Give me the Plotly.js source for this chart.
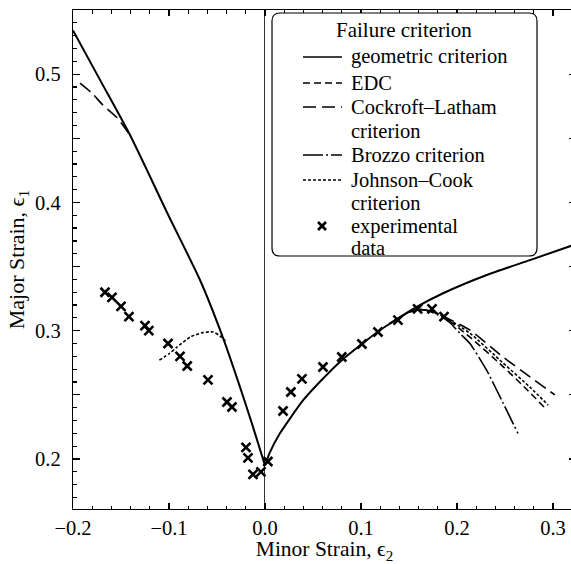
<!DOCTYPE html>
<html>
<head>
<meta charset="utf-8">
<script src="https://cdn.plot.ly/plotly-3.0.1.min.js"></script>
<style>
html,body{margin:0;padding:0;overflow:hidden;background:#fff;}
#chart{width:590px;height:564px;}
</style>
</head>
<body>
<div id="chart"></div>
<script>
// ---- data ----
const geoLeftX = [-0.2, -0.17, -0.1406, -0.1, -0.0677, -0.044, -0.026, -0.0125, 0.0];
const geoLeftY = [0.534, 0.493, 0.4525, 0.389, 0.3395, 0.295, 0.256, 0.225, 0.195];
const geoRightX = [0.0, 0.005, 0.0156, 0.026, 0.04, 0.057, 0.08, 0.101, 0.12, 0.1385, 0.158, 0.185, 0.231, 0.276, 0.324];
const geoRightY = [0.195, 0.205, 0.220, 0.2315, 0.246, 0.260, 0.277, 0.2896, 0.3005, 0.3095, 0.3185, 0.329, 0.3434, 0.355, 0.3675];

const edcX = [0.13, 0.1385, 0.15, 0.162, 0.175, 0.185, 0.2135, 0.248, 0.273, 0.2917];
const edcY = [0.3055, 0.3095, 0.3145, 0.3165, 0.3148, 0.3115, 0.295, 0.272, 0.254, 0.2397];

const clLeftX = [-0.1927, -0.180, -0.169, -0.154, -0.1406];
const clLeftY = [0.493, 0.485, 0.476, 0.466, 0.4525];
const clRightX = [0.13, 0.1385, 0.15, 0.162, 0.175, 0.185, 0.2135, 0.248, 0.276, 0.302];
const clRightY = [0.3055, 0.3095, 0.3145, 0.3165, 0.3148, 0.3115, 0.3005, 0.2795, 0.264, 0.2499];

const brX = [0.13, 0.1385, 0.15, 0.162, 0.172, 0.185, 0.193, 0.203, 0.2135, 0.231, 0.248, 0.2635];
const brY = [0.3055, 0.3095, 0.3145, 0.3165, 0.3150, 0.3105, 0.306, 0.298, 0.290, 0.269, 0.2436, 0.220];

const jcLeftX = [-0.11, -0.1, -0.092, -0.078, -0.065, -0.054, -0.047, -0.040];
const jcLeftY = [0.277, 0.282, 0.287, 0.295, 0.2985, 0.299, 0.296, 0.291];
const jcRightX = [0.13, 0.1385, 0.15, 0.162, 0.175, 0.185, 0.2135, 0.248, 0.276, 0.295];
const jcRightY = [0.3055, 0.3095, 0.3145, 0.3165, 0.3148, 0.3115, 0.298, 0.2748, 0.256, 0.242];

const expX = [-0.1667, -0.1594, -0.150, -0.1417, -0.125, -0.121, -0.101, -0.0885, -0.081, -0.0594, -0.0396, -0.0344, -0.0198, -0.0177, -0.0125, -0.0042, 0.003,
              0.0188, 0.027, 0.0385, 0.0604, 0.080, 0.101, 0.1177, 0.1385, 0.159, 0.174, 0.1865];
const expY = [0.330, 0.326, 0.319, 0.311, 0.304, 0.300, 0.290, 0.280, 0.2725, 0.2616, 0.2444, 0.2405, 0.209, 0.2008, 0.188, 0.190, 0.198,
              0.2374, 0.2522, 0.2624, 0.2717, 0.2795, 0.2896, 0.299, 0.3083, 0.317, 0.317, 0.311];

const legendTitle = "Failure criterion";
const seriesNames = ["geometric criterion", "EDC", "Cockroft–Latham", "Brozzo criterion", "Johnson–Cook", "experimental"];
const seriesNames2 = ["", "", "criterion", "", "criterion", "data"];
const xTickVals = [-0.2, -0.1, 0.0, 0.1, 0.2, 0.3];
const xTickText = ["−0.2", "−0.1", "0.0", "0.1", "0.2", "0.3"];
const yTickVals = [0.2, 0.25, 0.3, 0.35, 0.4, 0.45, 0.5];
const yTickText = ["0.2", "", "0.3", "", "0.4", "", "0.5"];

// ---- styles ----
const FONT = "Liberation Serif, DejaVu Serif, serif";
const styles = {
  geo: {color: "black", width: 2},
  edc: {color: "black", width: 1.6, dash: "7px,4px"},
  cl:  {color: "black", width: 1.6, dash: "13px,6px"},
  br:  {color: "black", width: 1.6, dash: "20px,3px,2px,3px"},
  jc:  {color: "black", width: 1.6, dash: "3px,2px"}
};

// ---- layout geometry ----
const W = 590, H = 564;
const M = {l: 73, r: 14, t: 10, b: 55};
const plotW = W - M.l - M.r, plotH = H - M.t - M.b;
function px2paperX(p){ return (p - M.l) / plotW; }
function py2paperY(p){ return (H - M.b - p) / plotH; }

// rounded legend frame
const box = {x0: 272, x1: 537, y0: 13, y1: 256, r: 8};
const bx0 = px2paperX(box.x0), bx1 = px2paperX(box.x1);
const byT = py2paperY(box.y0), byB = py2paperY(box.y1);
const rx = box.r / plotW, ry = box.r / plotH;
const boxPath = `M${bx0+rx},${byT} L${bx1-rx},${byT} Q${bx1},${byT} ${bx1},${byT-ry} L${bx1},${byB+ry} Q${bx1},${byB} ${bx1-rx},${byB} L${bx0+rx},${byB} Q${bx0},${byB} ${bx0},${byB+ry} L${bx0},${byT-ry} Q${bx0},${byT} ${bx0+rx},${byT} Z`;

function lineTrace(x, y, st){
  return {x: x, y: y, mode: "lines", line: Object.assign({shape: "spline", smoothing: 0.6}, st), showlegend: false, hoverinfo: "skip"};
}

const traces = [
  lineTrace(geoLeftX, geoLeftY, styles.geo),
  lineTrace(geoRightX, geoRightY, styles.geo),
  lineTrace(edcX, edcY, styles.edc),
  lineTrace(clLeftX, clLeftY, styles.cl),
  lineTrace(clRightX, clRightY, styles.cl),
  lineTrace(brX, brY, styles.br),
  lineTrace(jcLeftX, jcLeftY, styles.jc),
  lineTrace(jcRightX, jcRightY, styles.jc),
  {x: expX, y: expY, mode: "markers", showlegend: false, hoverinfo: "skip",
   marker: {symbol: "x-thin", size: 9, color: "black", line: {color: "black", width: 2.6}}}
];

// ---- hand-built legend (pixel layout) ----
const LFS = 20.5;
const LEG = {sx0: 303, sx1: 342, tx: 350,
  rows: [57, 83, 107, 131, 155, 180, 203, 226, 248],
  titleX: 404, titleY: 30};
const legStyles = [styles.geo, styles.edc, styles.cl, styles.br, styles.jc];
const rowIdx = [0, 1, 2, 4, 5, 7]; // first row of each entry
const shapes = [
  {type: "path", xref: "paper", yref: "paper", path: boxPath, layer: "above",
   fillcolor: "white", line: {color: "black", width: 1.2}}
];
const annotations = [
  {xref: "paper", yref: "paper", x: px2paperX(LEG.titleX), y: py2paperY(LEG.titleY),
   text: legendTitle, showarrow: false, xanchor: "center", yanchor: "middle", borderpad: 0,
   font: {family: FONT, size: 21, color: "black"}}
];
seriesNames.forEach(function(nm, i){
  const r = rowIdx[i];
  const yy = py2paperY(LEG.rows[r]);
  annotations.push({xref: "paper", yref: "paper", x: px2paperX(LEG.tx), y: yy, text: nm, borderpad: 0,
    showarrow: false, xanchor: "left", yanchor: "middle", font: {family: FONT, size: LFS, color: "black"}});
  if (seriesNames2[i]) {
    annotations.push({xref: "paper", yref: "paper", x: px2paperX(LEG.tx), y: py2paperY(LEG.rows[r + 1]), text: seriesNames2[i], borderpad: 0,
      showarrow: false, xanchor: "left", yanchor: "middle", font: {family: FONT, size: LFS, color: "black"}});
  }
  if (i < 5) {
    shapes.push({type: "line", xref: "paper", yref: "paper", layer: "above",
      x0: px2paperX(LEG.sx0), x1: px2paperX(LEG.sx1), y0: yy, y1: yy,
      line: Object.assign({}, legStyles[i], {width: 1.6})});
  } else {
    const cx = 322, cy = LEG.rows[r], h = 4;
    [[-h, -h, h, h], [-h, h, h, -h]].forEach(function(d){
      shapes.push({type: "line", xref: "paper", yref: "paper", layer: "above",
        x0: px2paperX(cx + d[0]), y0: py2paperY(cy + d[1]), x1: px2paperX(cx + d[2]), y1: py2paperY(cy + d[3]),
        line: {color: "black", width: 2.6}});
    });
  }
});

const axisCommon = {
  showgrid: false, showline: true, linecolor: "black", linewidth: 1.2,
  mirror: "ticks", ticks: "inside", tickcolor: "black", tickwidth: 1.2,
  tickfont: {family: FONT, size: 20.5, color: "black"}
};

const layout = {
  width: W, height: H, margin: M,
  paper_bgcolor: "white", plot_bgcolor: "white",
  showlegend: false,
  font: {family: FONT, size: 20, color: "black"},
  xaxis: Object.assign({}, axisCommon, {
    range: [-0.2, 0.324],
    tickmode: "array", tickvals: xTickVals, ticktext: xTickText, ticklen: 6,
    minor: {dtick: 0.02, tick0: 0, ticks: "inside", ticklen: 3.5, tickcolor: "black", tickwidth: 1.2},
    zeroline: true, zerolinecolor: "#333", zerolinewidth: 1,
    title: {text: "Minor Strain, ϵ<sub>2</sub>", font: {family: FONT, size: 21.5, color: "black"}, standoff: 6}
  }),
  yaxis: Object.assign({}, axisCommon, {
    range: [0.161, 0.55],
    tickmode: "array", tickvals: yTickVals, ticktext: yTickText, ticklen: 7,
    minor: {dtick: 0.01, tick0: 0, ticks: "inside", ticklen: 3.5, tickcolor: "black", tickwidth: 1.2},
    zeroline: false, ticklabelstandoff: 7,
    title: {text: "Major Strain, ϵ<sub>1</sub>", font: {family: FONT, size: 22, color: "black"}, standoff: 4}
  }),
  shapes: shapes,
  annotations: annotations
};

Plotly.newPlot("chart", traces, layout, {staticPlot: true, displayModeBar: false});
</script>
</body>
</html>
